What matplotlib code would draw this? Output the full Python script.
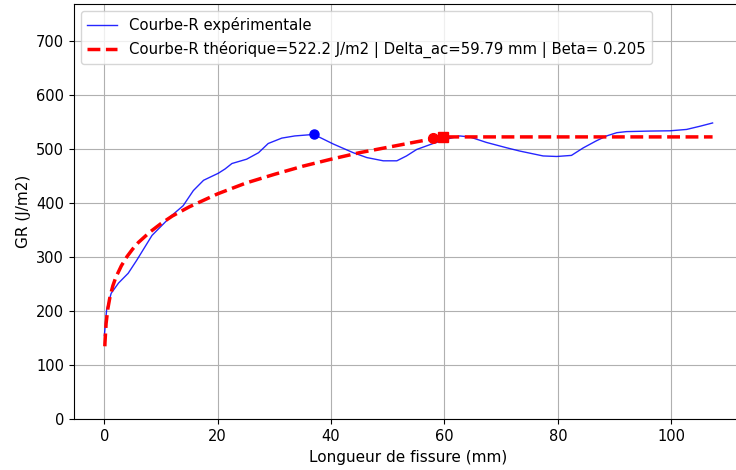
import matplotlib
matplotlib.use("Agg")
import matplotlib.pyplot as plt

exp_x = [0, 0.4, 1.2, 2.5, 4.2, 5.7, 8.4, 11.9, 13.9, 15.7, 17.5, 20.1, 21.3, 22.5,
         25.1, 27.2, 28.9, 31.3, 33.6, 36.0, 36.9, 40.4, 43.9, 46.3, 49.2, 51.6,
         53.3, 55.1, 58.0, 60.4, 62.7, 64.5, 67.4, 71.0, 73.3, 77.4, 79.8, 82.4,
         84.5, 86.8, 88.6, 90.4, 92.1, 96.2, 99.8, 102.7, 105.1, 107.3]
exp_y = [155, 203, 233, 252, 270, 294, 340, 377, 395, 423, 442, 455, 463, 473,
         481, 493, 510, 520, 524, 526, 527, 509, 493, 484, 478, 478,
         487, 499, 510, 518, 524, 522, 512, 502, 496, 487, 486, 488,
         502, 515, 524, 530, 532, 533, 533.5, 536, 542, 548]

# Theoretical R-curve
th_x = [0.08, 0.1, 0.3, 0.6, 1, 1.5, 2, 3, 4, 5, 6, 8, 10, 12, 15, 20, 25, 30,
        35, 40, 45, 50, 55, 59.79, 107.3]
th_y = [135, 141, 177, 204, 227, 247, 262, 284, 301, 315, 327, 346, 362, 376,
        393, 417, 437, 453, 468, 481, 493, 503, 513, 522.2, 522.2]

peak_exp = (36.9, 527)
pt_circle = (58.0, 519.5)
pt_square = (59.79, 522.2)

label_exp = "Courbe-R expérimentale"
label_th = "Courbe-R théorique=522.2 J/m2 | Delta_ac=59.79 mm | Beta= 0.205"

plt.rcParams["font.size"] = 11

fig = plt.figure(figsize=(7.36, 4.70), dpi=100)
ax = fig.add_axes([0.1005, 0.1079, 0.909, 0.8836])

ax.plot(exp_x, exp_y, color="blue", lw=1.0, alpha=0.85, label=label_exp)
ax.plot(th_x, th_y, color="red", lw=2.5, ls="--", label=label_th)
ax.plot([peak_exp[0]], [peak_exp[1]], "o", color="blue", ms=6.5)
ax.plot([pt_circle[0]], [pt_circle[1]], "o", color="red", ms=7)
ax.plot([pt_square[0]], [pt_square[1]], "s", color="red", ms=7)

ax.set_xlim(-5.365, 112.665)
ax.set_ylim(0, 768)
ax.set_xticks([0, 20, 40, 60, 80, 100])
ax.set_yticks([0, 100, 200, 300, 400, 500, 600, 700])
ax.tick_params(labelsize=10.5)
ax.grid(True)
ax.set_xlabel("Longueur de fissure (mm)")
ax.set_ylabel("GR (J/m2)")
ax.legend(loc="upper left", fontsize=10.7)

fig.savefig("out.png", dpi=100)
